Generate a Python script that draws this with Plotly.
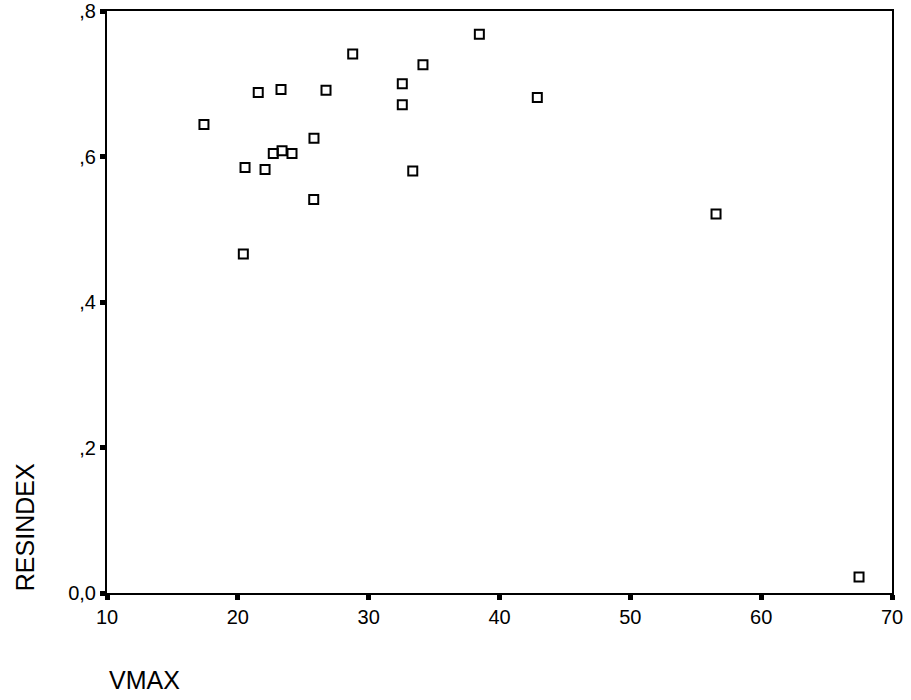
import plotly.graph_objects as go

vmax = [17.41, 20.55, 20.42, 21.56, 22.08, 22.71, 23.30, 23.38, 24.14, 25.82,
        25.80, 26.74, 28.78, 32.57, 32.57, 33.37, 34.15, 38.46, 42.89, 56.55, 67.48]
resindex = [0.644, 0.585, 0.466, 0.688, 0.582, 0.604, 0.692, 0.608, 0.604, 0.625,
            0.541, 0.691, 0.741, 0.700, 0.671, 0.580, 0.726, 0.768, 0.681, 0.521, 0.022]

xticks = [10, 20, 30, 40, 50, 60, 70]
yticks = [0.0, 0.2, 0.4, 0.6, 0.8]
yticklabels = ["0,0", ",2", ",4", ",6", ",8"]

fig = go.Figure()
fig.add_trace(go.Scatter(
    x=vmax, y=resindex, mode="markers",
    marker=dict(symbol="square-open", size=9, color="black", line=dict(width=2, color="black")),
    showlegend=False, hoverinfo="x+y",
))

fam = "Liberation Sans, Arial, sans-serif"
font = dict(family=fam, size=20, color="black")

fig.update_layout(
    width=911, height=700,
    margin=dict(l=107, r=19, t=11, b=107),
    paper_bgcolor="white", plot_bgcolor="white",
    font=font,
    xaxis=dict(range=[10, 70], tickvals=xticks, ticktext=[str(v) for v in xticks],
               showgrid=False, zeroline=False, showline=True, linecolor="black",
               linewidth=2, mirror=True, ticks="outside", ticklen=5, tickwidth=5,
               tickcolor="black", tickfont=font, automargin=False),
    yaxis=dict(range=[0, 0.8], tickvals=yticks, ticktext=yticklabels,
               showgrid=False, zeroline=False, showline=True, linecolor="black",
               linewidth=2, mirror=True, ticks="outside", ticklen=5, tickwidth=5,
               tickcolor="black", tickfont=font, automargin=False),
    annotations=[
        dict(text="RESINDEX", xref="paper", yref="paper", x=-0.1045, y=0.113,
             textangle=-90, showarrow=False, xanchor="center", yanchor="middle",
             font=dict(family=fam, size=25, color="black")),
        dict(text="VMAX", xref="paper", yref="paper", x=0.0, y=-0.1495,
             showarrow=False, xanchor="left", yanchor="middle",
             font=dict(family=fam, size=25, color="black")),
    ],
)

fig.write_html("out.html")
